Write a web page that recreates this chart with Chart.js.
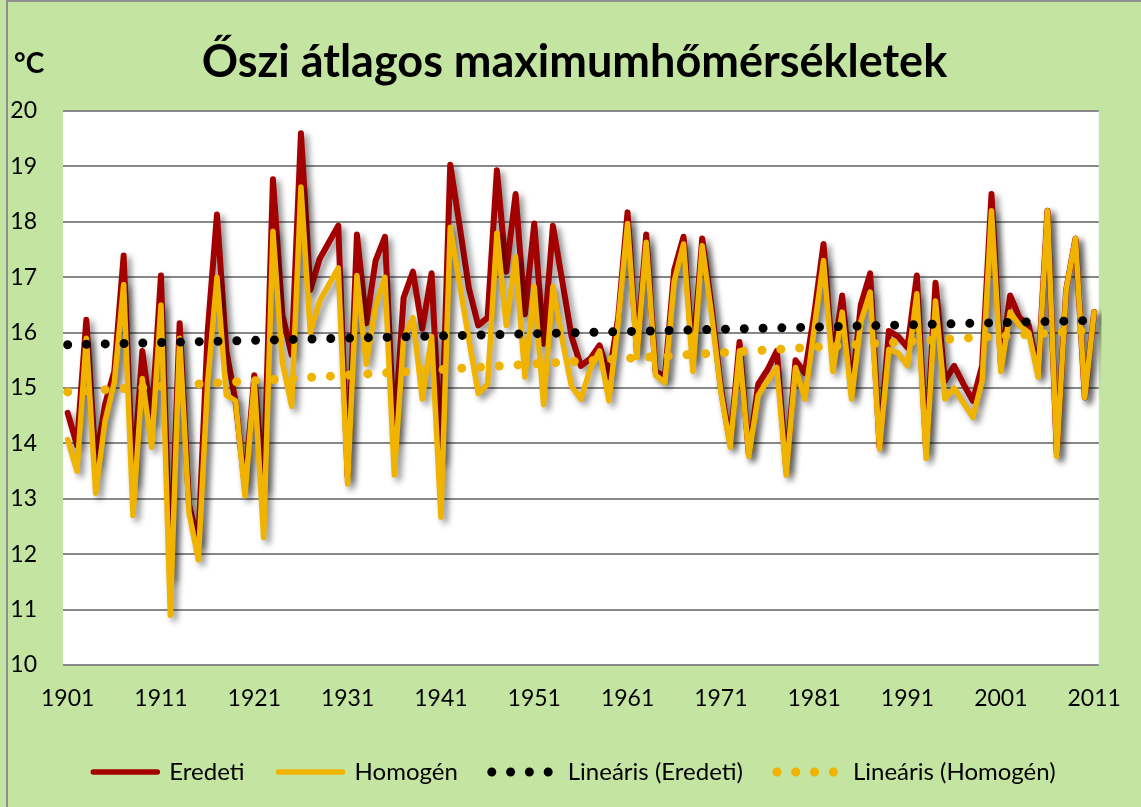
<!DOCTYPE html>
<html>
<head>
<meta charset="utf-8">
<script src="https://cdn.jsdelivr.net/npm/chart.js@4.4.1/dist/chart.umd.min.js"></script>
<style>
  html, body { margin: 0; padding: 0; background: #c4e4a2; }
  #wrap { width: 1141px; height: 807px; }
</style>
</head>
<body>
<div id="wrap"><canvas id="chart" width="1141" height="807"></canvas></div>
<script>
// ---------- data ----------
const FIRST_YEAR = 1901, LAST_YEAR = 2011;
const years = [];
for (let y = FIRST_YEAR; y <= LAST_YEAR; y++) years.push(String(y));

// Eredeti (original series), 1901..2011
const eredeti = [
  14.55, 13.97, 16.23, 13.65, 14.70, 15.30, 17.39, 13.30, 15.67, 14.40,
  17.03, 11.60, 16.17, 12.90, 12.20, 16.00, 18.13, 15.67, 14.75, 13.20,
  15.23, 13.20, 18.77, 16.33, 15.60, 19.60, 16.77, 17.33, 17.63, 17.93,
  13.40, 17.77, 16.17, 17.30, 17.73, 14.10, 16.63, 17.10, 16.07, 17.07,
  13.70, 19.03, 17.93, 16.80, 16.13, 16.27, 18.93, 17.10, 18.50, 16.33,
  17.97, 15.80, 17.93, 16.93, 15.93, 15.40, 15.53, 15.77, 15.20, 16.27,
  18.17, 15.65, 17.77, 15.30, 15.20, 17.13, 17.73, 15.53, 17.70, 16.47,
  15.00, 14.00, 15.83, 13.80, 15.07, 15.33, 15.67, 13.53, 15.50, 15.27,
  16.33, 17.60, 15.47, 16.67, 14.93, 16.50, 17.07, 13.95, 16.03, 15.93,
  15.73, 17.03, 13.87, 16.90, 15.13, 15.40, 15.07, 14.77, 15.40, 18.50,
  15.45, 16.67, 16.27, 16.13, 15.27, 18.20, 13.80, 16.77, 17.70, 14.83,
  16.37
];

// Homogén (homogenised series), 1901..2011
const homogen = [
  14.07, 13.50, 15.90, 13.10, 14.40, 15.10, 16.87, 12.70, 15.17, 13.93,
  16.50, 10.90, 15.90, 12.75, 11.90, 15.10, 17.00, 14.87, 14.77, 13.05,
  15.13, 12.30, 17.83, 15.47, 14.67, 18.63, 16.00, 16.57, 16.87, 17.17,
  13.27, 17.03, 15.43, 16.47, 17.00, 13.43, 15.90, 16.27, 14.80, 15.93,
  12.67, 17.90, 16.87, 15.87, 14.90, 15.07, 17.80, 16.13, 17.37, 15.20,
  16.83, 14.70, 16.83, 15.87, 15.03, 14.80, 15.35, 15.67, 14.77, 16.20,
  17.97, 15.55, 17.63, 15.23, 15.10, 16.93, 17.60, 15.30, 17.57, 16.33,
  14.93, 13.93, 15.67, 13.77, 14.87, 15.13, 15.37, 13.43, 15.37, 14.80,
  16.07, 17.30, 15.30, 16.37, 14.80, 16.20, 16.73, 13.90, 15.70, 15.63,
  15.40, 16.70, 13.73, 16.57, 14.80, 15.00, 14.73, 14.47, 15.13, 18.20,
  15.30, 16.37, 16.13, 16.00, 15.20, 18.20, 13.77, 16.77, 17.70, 14.83,
  16.37
];

// linear trend lines: value at first and last year
const trendYears = ['1901', '2011'];
const trendEredeti = [15.78, 16.22];
const trendHomogen = [14.93, 16.04];

const yMin = 10, yMax = 20, yStep = 1;
const labelEvery = 10;

// ---------- colours / fonts ----------
const BG = '#c4e4a2';
const RED = '#a30000';
const GOLD = '#efb300';
const GRID = '#888888';
const FONT = 'Lato';

const toPoints = (xs, ys) => xs.map((x, i) => ({ x, y: ys[i] }));

// ---------- plugins ----------
const frame = {
  id: 'frame',
  beforeDraw(chart) {
    const { ctx, chartArea: a } = chart;
    ctx.save();
    ctx.fillStyle = BG;
    ctx.fillRect(0, 0, chart.width, chart.height);
    ctx.strokeStyle = '#8f8f8f';
    ctx.lineWidth = 2;
    ctx.strokeRect(7, 1, chart.width + 20, chart.height + 20);
    ctx.fillStyle = '#ffffff';
    ctx.fillRect(a.left, a.top, a.right - a.left, a.bottom - a.top);
    ctx.restore();
  },
  afterDraw(chart) {
    const ctx = chart.ctx;
    ctx.save();
    ctx.fillStyle = '#000';
    ctx.font = `bold 28px ${FONT}`;
    ctx.textBaseline = 'alphabetic';
    ctx.fillText('°C', 14, 73);
    ctx.restore();
  }
};

// soft drop shadow under the two data lines (like the Excel original)
const lineShadow = {
  id: 'lineShadow',
  beforeDatasetDraw(chart, args) {
    if (args.index > 1) return;
    const ctx = chart.ctx;
    ctx.save();
    ctx.shadowColor = 'rgba(0,0,0,0.45)';
    ctx.shadowBlur = 6;
    ctx.shadowOffsetX = 4;
    ctx.shadowOffsetY = 4;
  },
  afterDatasetDraw(chart, args) {
    if (args.index > 1) return;
    chart.ctx.restore();
  }
};

new Chart(document.getElementById('chart'), {
  type: 'line',
  data: {
    labels: years,
    datasets: [
      { label: 'Eredeti', data: eredeti, borderColor: RED, backgroundColor: RED,
        borderWidth: 6, borderJoinStyle: 'round', borderCapStyle: 'round', order: 4 },
      { label: 'Homogén', data: homogen, borderColor: GOLD, backgroundColor: GOLD,
        borderWidth: 5.5, borderJoinStyle: 'round', borderCapStyle: 'round', order: 3 },
      { label: 'Lineáris (Eredeti)', data: toPoints(trendYears, trendEredeti),
        borderColor: '#000', backgroundColor: '#000',
        borderWidth: 9, borderDash: [0, 18.8], borderCapStyle: 'round', order: 2 },
      { label: 'Lineáris (Homogén)', data: toPoints(trendYears, trendHomogen),
        borderColor: GOLD, backgroundColor: GOLD,
        borderWidth: 9, borderDash: [0, 18.8], borderCapStyle: 'round', order: 1 }
    ]
  },
  options: {
    responsive: false,
    animation: false,
    events: [],
    elements: { point: { radius: 0 }, line: { tension: 0 } },
    layout: { padding: { left: 8, bottom: 13 } },
    plugins: {
      title: {
        display: true,
        text: 'Őszi átlagos maximumhőmérsékletek',
        color: '#000',
        font: { family: FONT, size: 45, weight: 'bold', lineHeight: 1.2 },
        padding: { top: 35, bottom: 22 }
      },
      legend: {
        position: 'bottom',
        labels: {
          color: '#000',
          font: { family: FONT, size: 24 },
          padding: 34,
          usePointStyle: true,
          pointStyleWidth: 64,
          sort: (a, b) => a.datasetIndex - b.datasetIndex,
          generateLabels: chart => chart.data.datasets.map((ds, i) => ({
            text: ds.label,
            strokeStyle: ds.borderColor,
            fillStyle: ds.borderColor,
            lineWidth: ds.borderDash ? 9 : 5.5,
            lineDash: ds.borderDash || [],
            lineCap: 'round',
            pointStyle: 'line',
            fontColor: '#000',
            hidden: false,
            datasetIndex: i
          }))
        }
      },
      tooltip: { enabled: false }
    },
    scales: {
      x: {
        type: 'category',
        offset: true,
        grid: { display: false, drawTicks: false },
        border: { display: false },
        ticks: {
          autoSkip: false, maxRotation: 0, minRotation: 0, padding: 20, color: '#000',
          font: { family: FONT, size: 23 },
          callback: function (v, i) { return i % labelEvery === 0 ? this.getLabelForValue(v) : ''; }
        },
        afterFit: s => { s.height = 61; }
      },
      y: {
        min: yMin, max: yMax,
        grid: { color: GRID, lineWidth: 2, drawTicks: false },
        border: { display: false },
        ticks: { stepSize: yStep, padding: 26, color: '#000', font: { family: FONT, size: 23 } },
        afterFit: s => { s.width = 55; }
      },
      y2: {
        position: 'right',
        grid: { display: false, drawTicks: false },
        border: { display: false },
        ticks: { display: false },
        afterFit: s => { s.width = 41; }
      }
    }
  },
  plugins: [frame, lineShadow]
});
</script>
</body>
</html>
